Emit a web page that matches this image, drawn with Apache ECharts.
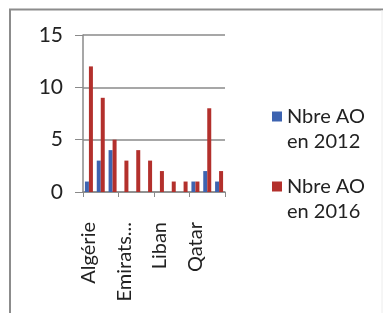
<!DOCTYPE html>
<html>
<head>
<meta charset="utf-8">
<script src="https://cdn.jsdelivr.net/npm/echarts@6/dist/echarts.min.js"></script>
<style>
html,body{margin:0;padding:0;background:#fff;}
#c{width:386px;height:313px;}
</style>
</head>
<body>
<div id="c"></div>
<script>
const categories = ['Algérie','Arabie Saoudite','Egypte','Emirats Arabes Unis','Irak','Jordanie','Liban','Libye','Maroc','Qatar','Syrie','Tunisie'];
const values2012 = [1, 3, 4, 0, 0, 0, 0, 0, 0, 1, 2, 1];
const values2016 = [12, 9, 5, 3, 4, 3, 2, 1, 1, 1, 8, 2];
const seriesNames = ['Nbre AO\nen 2012', 'Nbre AO\nen 2016'];
const yTicks = [0, 5, 10, 15];

const chart = echarts.init(document.getElementById('c'), null, {renderer: 'canvas'});
const font = 'Lato';
const legendBase = {
  orient: 'vertical',
  left: 272,
  padding: 0,
  itemWidth: 10,
  itemHeight: 10,
  icon: 'rect',
  formatter: name => ' \n' + name,
  textStyle: {fontFamily: font, fontSize: 20, color: '#222', lineHeight: 25}
};
chart.setOption({
  animation: false,
  backgroundColor: '#ffffff',
  graphic: [
    {type: 'line', shape: {x1: 9, y1: 9.5, x2: 383, y2: 9.5}, style: {stroke: '#8c8c8c', lineWidth: 2}, silent: true},
    {type: 'line', shape: {x1: 10, y1: 9, x2: 10, y2: 313}, style: {stroke: '#8c8c8c', lineWidth: 2}, silent: true},
    {type: 'line', shape: {x1: 382, y1: 10, x2: 382, y2: 313}, style: {stroke: '#ececec', lineWidth: 1}, silent: true}
  ],
  grid: {left: 83, right: 161, top: 35, bottom: 121, containLabel: false},
  legend: [
    Object.assign({}, legendBase, {top: 79, data: [seriesNames[0]]}),
    Object.assign({}, legendBase, {top: 149, data: [seriesNames[1]]})
  ],
  xAxis: {
    type: 'category',
    data: categories,
    axisLine: {lineStyle: {color: '#8a8a8a', width: 1.5}},
    axisTick: {show: true, length: 5, lineStyle: {color: '#8a8a8a'}},
    axisLabel: {
      interval: 2,
      rotate: 90,
      margin: 30,
      fontFamily: font,
      fontSize: 20,
      color: '#222',
      formatter: v => v.length > 10 ? v.slice(0, 7) + '...' : v
    }
  },
  yAxis: {
    type: 'value',
    min: yTicks[0],
    max: yTicks[yTicks.length - 1],
    interval: 5,
    axisLine: {show: true, lineStyle: {color: '#8a8a8a', width: 1.5}},
    axisTick: {show: true, length: 8, lineStyle: {color: '#8a8a8a'}},
    splitLine: {lineStyle: {color: '#8a8a8a', width: 1.5}},
    axisLabel: {fontFamily: font, fontSize: 21, color: '#222', margin: 20}
  },
  series: [
    {name: seriesNames[0], type: 'bar', data: values2012, barWidth: 4, barGap: '0%',
     itemStyle: {color: '#3d63b0'}},
    {name: seriesNames[1], type: 'bar', data: values2016, barWidth: 4,
     itemStyle: {color: '#b3302c'}}
  ]
});
</script>
</body>
</html>
